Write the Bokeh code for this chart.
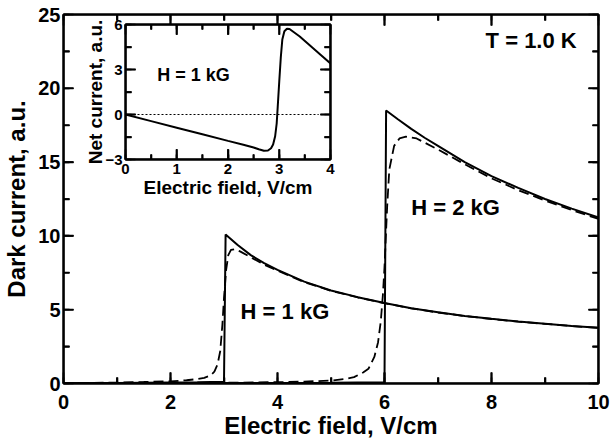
import math
from bokeh.plotting import figure
from bokeh.models import LinearAxis, Label, Range1d, SingleIntervalTicker, BoxAnnotation
from bokeh.layouts import column
from bokeh.embed import file_html
from bokeh.resources import INLINE

FONT = "Liberation Sans"

# ---- main panel data (Electric field V/cm, Dark current a.u.) ----
h1_solid_x = [0.0, 1.0, 2.0, 2.5, 3.0, 3.03, 3.25, 3.5, 3.75, 4.0, 4.5, 5.0, 5.5, 6.0, 6.5, 7.0, 7.5, 8.0, 8.5, 9.0, 9.5, 10.0]
h1_solid_y = [0.02, 0.04, 0.07, 0.09, 0.12, 10.1, 9.4, 8.7, 8.15, 7.7, 6.9, 6.3, 5.85, 5.45, 5.1, 4.82, 4.58, 4.38, 4.2, 4.05, 3.9, 3.78]

h1_dash_x = [0.0, 1.0, 1.5, 2.0, 2.3, 2.5, 2.63, 2.75, 2.82, 2.88, 2.93, 2.97, 3.0, 3.04, 3.08, 3.13, 3.2, 3.3, 3.5, 3.75, 4.0, 4.5, 5.0, 5.5, 6.0, 6.5, 7.0, 7.5, 8.0, 8.5, 9.0, 9.5, 10.0]
h1_dash_y = [0.02, 0.06, 0.1, 0.15, 0.22, 0.3, 0.38, 0.55, 0.8, 1.3, 2.2, 4.0, 5.8, 7.7, 8.7, 9.05, 9.1, 8.95, 8.55, 8.05, 7.65, 6.87, 6.28, 5.83, 5.44, 5.09, 4.81, 4.57, 4.37, 4.19, 4.04, 3.89, 3.77]

h2_solid_x = [0.0, 3.0, 5.0, 6.0, 6.03, 6.25, 6.5, 6.75, 7.0, 7.5, 8.0, 8.5, 9.0, 9.5, 10.0]
h2_solid_y = [0.01, 0.03, 0.05, 0.08, 18.5, 17.9, 17.25, 16.65, 16.1, 15.0, 14.05, 13.25, 12.5, 11.85, 11.25]

h2_dash_x = [0.0, 2.0, 3.0, 4.0, 4.5, 5.0, 5.25, 5.43, 5.6, 5.7, 5.81, 5.88, 5.93, 5.97, 6.0, 6.05, 6.09, 6.18, 6.28, 6.4, 6.6, 7.0, 7.5, 8.0, 8.5, 9.0, 9.5, 10.0]
h2_dash_y = [0.01, 0.03, 0.05, 0.09, 0.13, 0.2, 0.3, 0.43, 0.75, 1.0, 1.8, 2.8, 4.2, 6.0, 7.9, 12.0, 14.5, 16.1, 16.6, 16.72, 16.6, 15.85, 14.85, 13.9, 13.1, 12.4, 11.75, 11.15]

main_x_major = [2.0, 4.0, 6.0, 8.0]
main_x_minor = [1.0, 3.0, 5.0, 7.0, 9.0]
main_y_major = [5.0, 10.0, 15.0, 20.0]
main_y_minor = [2.5, 7.5, 12.5, 17.5, 22.5]

main_labels = ["T = 1.0 K", "H = 2 kG", "H = 1 kG"]
main_label_x = [7.89, 6.5, 3.31]
main_label_y = [23.24, 11.94, 4.9]
main_xtitle = "Electric field, V/cm"
main_ytitle = "Dark current, a.u."

# ---- inset data (Net current, H = 1 kG) ----
net_x = [0.0, 0.5, 1.0, 1.5, 2.0, 2.3, 2.5, 2.6, 2.7, 2.78, 2.84, 2.88, 2.92, 2.95, 2.97, 3.0, 3.03, 3.06, 3.1, 3.15, 3.2, 3.4, 3.6, 3.8, 4.0]
net_y = [0.0, -0.44, -0.88, -1.32, -1.76, -2.02, -2.2, -2.32, -2.42, -2.4, -2.25, -2.0, -1.45, -0.6, 0.5, 2.2, 3.8, 5.0, 5.55, 5.72, 5.7, 5.2, 4.6, 4.0, 3.4]
zero_x = [0.0, 3.77]
zero_y = [0.0, 0.0]

ins_x_major = [1.0, 2.0, 3.0]
ins_x_minor = [0.5, 1.5, 2.5, 3.5]
ins_y_major = [0.0, 3.0]
ins_y_minor = [-1.5, 1.5, 4.5]

inset_label = "H = 1 kG"
inset_xtitle = "Electric field, V/cm"
inset_ytitle = "Net current, a.u."


def style_axis(ax, interval, font_size, show_labels, standoff, tmaj, tmin):
    ax.ticker = SingleIntervalTicker(interval=interval, num_minor_ticks=2)
    ax.axis_line_width = 2
    ax.axis_line_color = "black"
    ax.major_tick_in = tmaj
    ax.major_tick_out = 0
    ax.minor_tick_in = tmin
    ax.minor_tick_out = 0
    ax.major_tick_line_color = "black"
    ax.minor_tick_line_color = "black"
    ax.major_tick_line_width = 1.6
    ax.minor_tick_line_width = 1.6
    ax.major_label_text_font = FONT
    ax.major_label_text_font_style = "bold"
    ax.major_label_text_color = "black"
    ax.major_label_standoff = standoff
    ax.axis_label_text_font = FONT
    ax.axis_label_text_font_style = "bold"
    ax.axis_label_text_color = "black"
    if show_labels:
        ax.major_label_text_font_size = font_size
    else:
        ax.major_label_text_font_size = "0px"
        ax.major_label_standoff = 0


def add_ticks(fig, xr, yr, frame_w, frame_h, xs_major, xs_minor, ys_major, ys_minor, lx, ly):
    """Inward tick marks on all four sides (lengths in pixels).
    Drawn as one continuous 'comb' line running round the frame edge, and
    also as small box annotations, so that they show whichever way renders."""
    ux = (xr[1] - xr[0]) / frame_w
    uy = (yr[1] - yr[0]) / frame_h
    xt = sorted([(v, lx[0]) for v in xs_major] + [(v, lx[1]) for v in xs_minor])
    yt = sorted([(v, ly[0]) for v in ys_major] + [(v, ly[1]) for v in ys_minor])
    cx, cy = [xr[0]], [yr[0]]
    for v, ln in xt:                       # bottom, left -> right
        cx += [v, v, v]
        cy += [yr[0], yr[0] + ln * uy, yr[0]]
    cx.append(xr[1]); cy.append(yr[0])
    for v, ln in yt:                       # right, bottom -> top
        cx += [xr[1], xr[1] - ln * ux, xr[1]]
        cy += [v, v, v]
    cx.append(xr[1]); cy.append(yr[1])
    for v, ln in reversed(xt):             # top, right -> left
        cx += [v, v, v]
        cy += [yr[1], yr[1] - ln * uy, yr[1]]
    cx.append(xr[0]); cy.append(yr[1])
    for v, ln in reversed(yt):             # left, top -> bottom
        cx += [xr[0], xr[0] + ln * ux, xr[0]]
        cy += [v, v, v]
    cx.append(xr[0]); cy.append(yr[0])
    fig.line(cx, cy, line_color="black", line_width=1.6, line_join="miter")

    hw = 0.8
    for v, ln in xt:
        for b, t in ((yr[0], yr[0] + ln * uy), (yr[1] - ln * uy, yr[1])):
            fig.add_layout(BoxAnnotation(left=v - hw * ux, right=v + hw * ux, bottom=b, top=t,
                                         fill_color="black", fill_alpha=1.0, line_color=None))
    for v, ln in yt:
        for l, r in ((xr[0], xr[0] + ln * ux), (xr[1] - ln * ux, xr[1])):
            fig.add_layout(BoxAnnotation(left=l, right=r, bottom=v - hw * uy, top=v + hw * uy,
                                         fill_color="black", fill_alpha=1.0, line_color=None))


# ---------------- main figure ----------------
MW, MH = 611, 441
ML, MR, MT, MB = 62, 13, 14, 58
main_xr, main_yr = (0.0, 10.0), (0.0, 25.0)
p = figure(width=MW, height=MH, x_range=Range1d(*main_xr), y_range=Range1d(*main_yr),
           output_backend="svg", toolbar_location=None,
           min_border_left=ML, min_border_right=MR, min_border_top=MT, min_border_bottom=MB,
           x_axis_label=main_xtitle, y_axis_label=main_ytitle)
p.grid.visible = False
p.outline_line_color = "black"
p.outline_line_width = 2
p.background_fill_color = "white"
p.border_fill_color = "white"

style_axis(p.xaxis[0], 2, "20px", True, 11, 11, 6)
style_axis(p.yaxis[0], 5, "20px", True, 3, 10, 6)
p.xaxis[0].axis_label_text_font_size = "24px"
p.yaxis[0].axis_label_text_font_size = "24px"
p.xaxis[0].axis_label_standoff = 0
p.yaxis[0].axis_label_standoff = 5

top_ax = LinearAxis()
style_axis(top_ax, 2, "0px", False, 0, 11, 6)
p.add_layout(top_ax, "above")
right_ax = LinearAxis()
style_axis(right_ax, 5, "0px", False, 0, 10, 6)
p.add_layout(right_ax, "right")

p.line(h1_solid_x, h1_solid_y, line_color="black", line_width=2)
p.line(h2_solid_x, h2_solid_y, line_color="black", line_width=2)
p.line(h1_dash_x, h1_dash_y, line_color="black", line_width=1.8, line_dash="10 5")
p.line(h2_dash_x, h2_dash_y, line_color="black", line_width=1.8, line_dash="10 5")

add_ticks(p, main_xr, main_yr, MW - ML - MR, MH - MT - MB,
          main_x_major, main_x_minor, main_y_major, main_y_minor, (11, 6), (10, 6))

for t, lx, ly in zip(main_labels, main_label_x, main_label_y):
    p.add_layout(Label(x=lx, y=ly, text=t, text_font=FONT, text_font_style="bold",
                       text_font_size="22px", text_color="black", text_baseline="alphabetic"))

# ---------------- inset ----------------
ins_xr, ins_yr = (0.0, 4.0), (-3.0, 6.0)
q = figure(width=281, height=191, x_range=Range1d(*ins_xr), y_range=Range1d(*ins_yr),
           output_backend="svg", toolbar_location=None,
           min_border_left=49, min_border_right=8, min_border_top=11, min_border_bottom=45,
           x_axis_label=inset_xtitle, y_axis_label=inset_ytitle,
           styles={"position": "absolute", "left": "62px", "top": "13px"})
q.grid.visible = False
q.outline_line_color = "black"
q.outline_line_width = 2
q.background_fill_color = "white"
q.border_fill_color = None

style_axis(q.xaxis[0], 1, "15px", True, 4, 10, 5)
style_axis(q.yaxis[0], 3, "15px", True, 3, 10, 6)
q.xaxis[0].axis_label_text_font_size = "19px"
q.yaxis[0].axis_label_text_font_size = "19px"
q.xaxis[0].axis_label_standoff = 0
q.yaxis[0].axis_label_standoff = -4
q_top = LinearAxis()
style_axis(q_top, 1, "0px", False, 0, 10, 5)
q.add_layout(q_top, "above")
q_right = LinearAxis()
style_axis(q_right, 3, "0px", False, 0, 10, 6)
q.add_layout(q_right, "right")

q.line(zero_x, zero_y, line_color="black", line_width=1, line_dash="2 2")
q.line(net_x, net_y, line_color="black", line_width=2)
add_ticks(q, ins_xr, ins_yr, 203, 133,
          ins_x_major, ins_x_minor, ins_y_major, ins_y_minor, (10, 5), (10, 6))
q.add_layout(Label(x=0.62, y=2.61, text=inset_label, text_font=FONT, text_font_style="bold",
                   text_font_size="18px", text_color="black", text_baseline="alphabetic"))

root = column(p, q, styles={"position": "relative"})
open("out.html", "w").write(file_html(root, INLINE))
